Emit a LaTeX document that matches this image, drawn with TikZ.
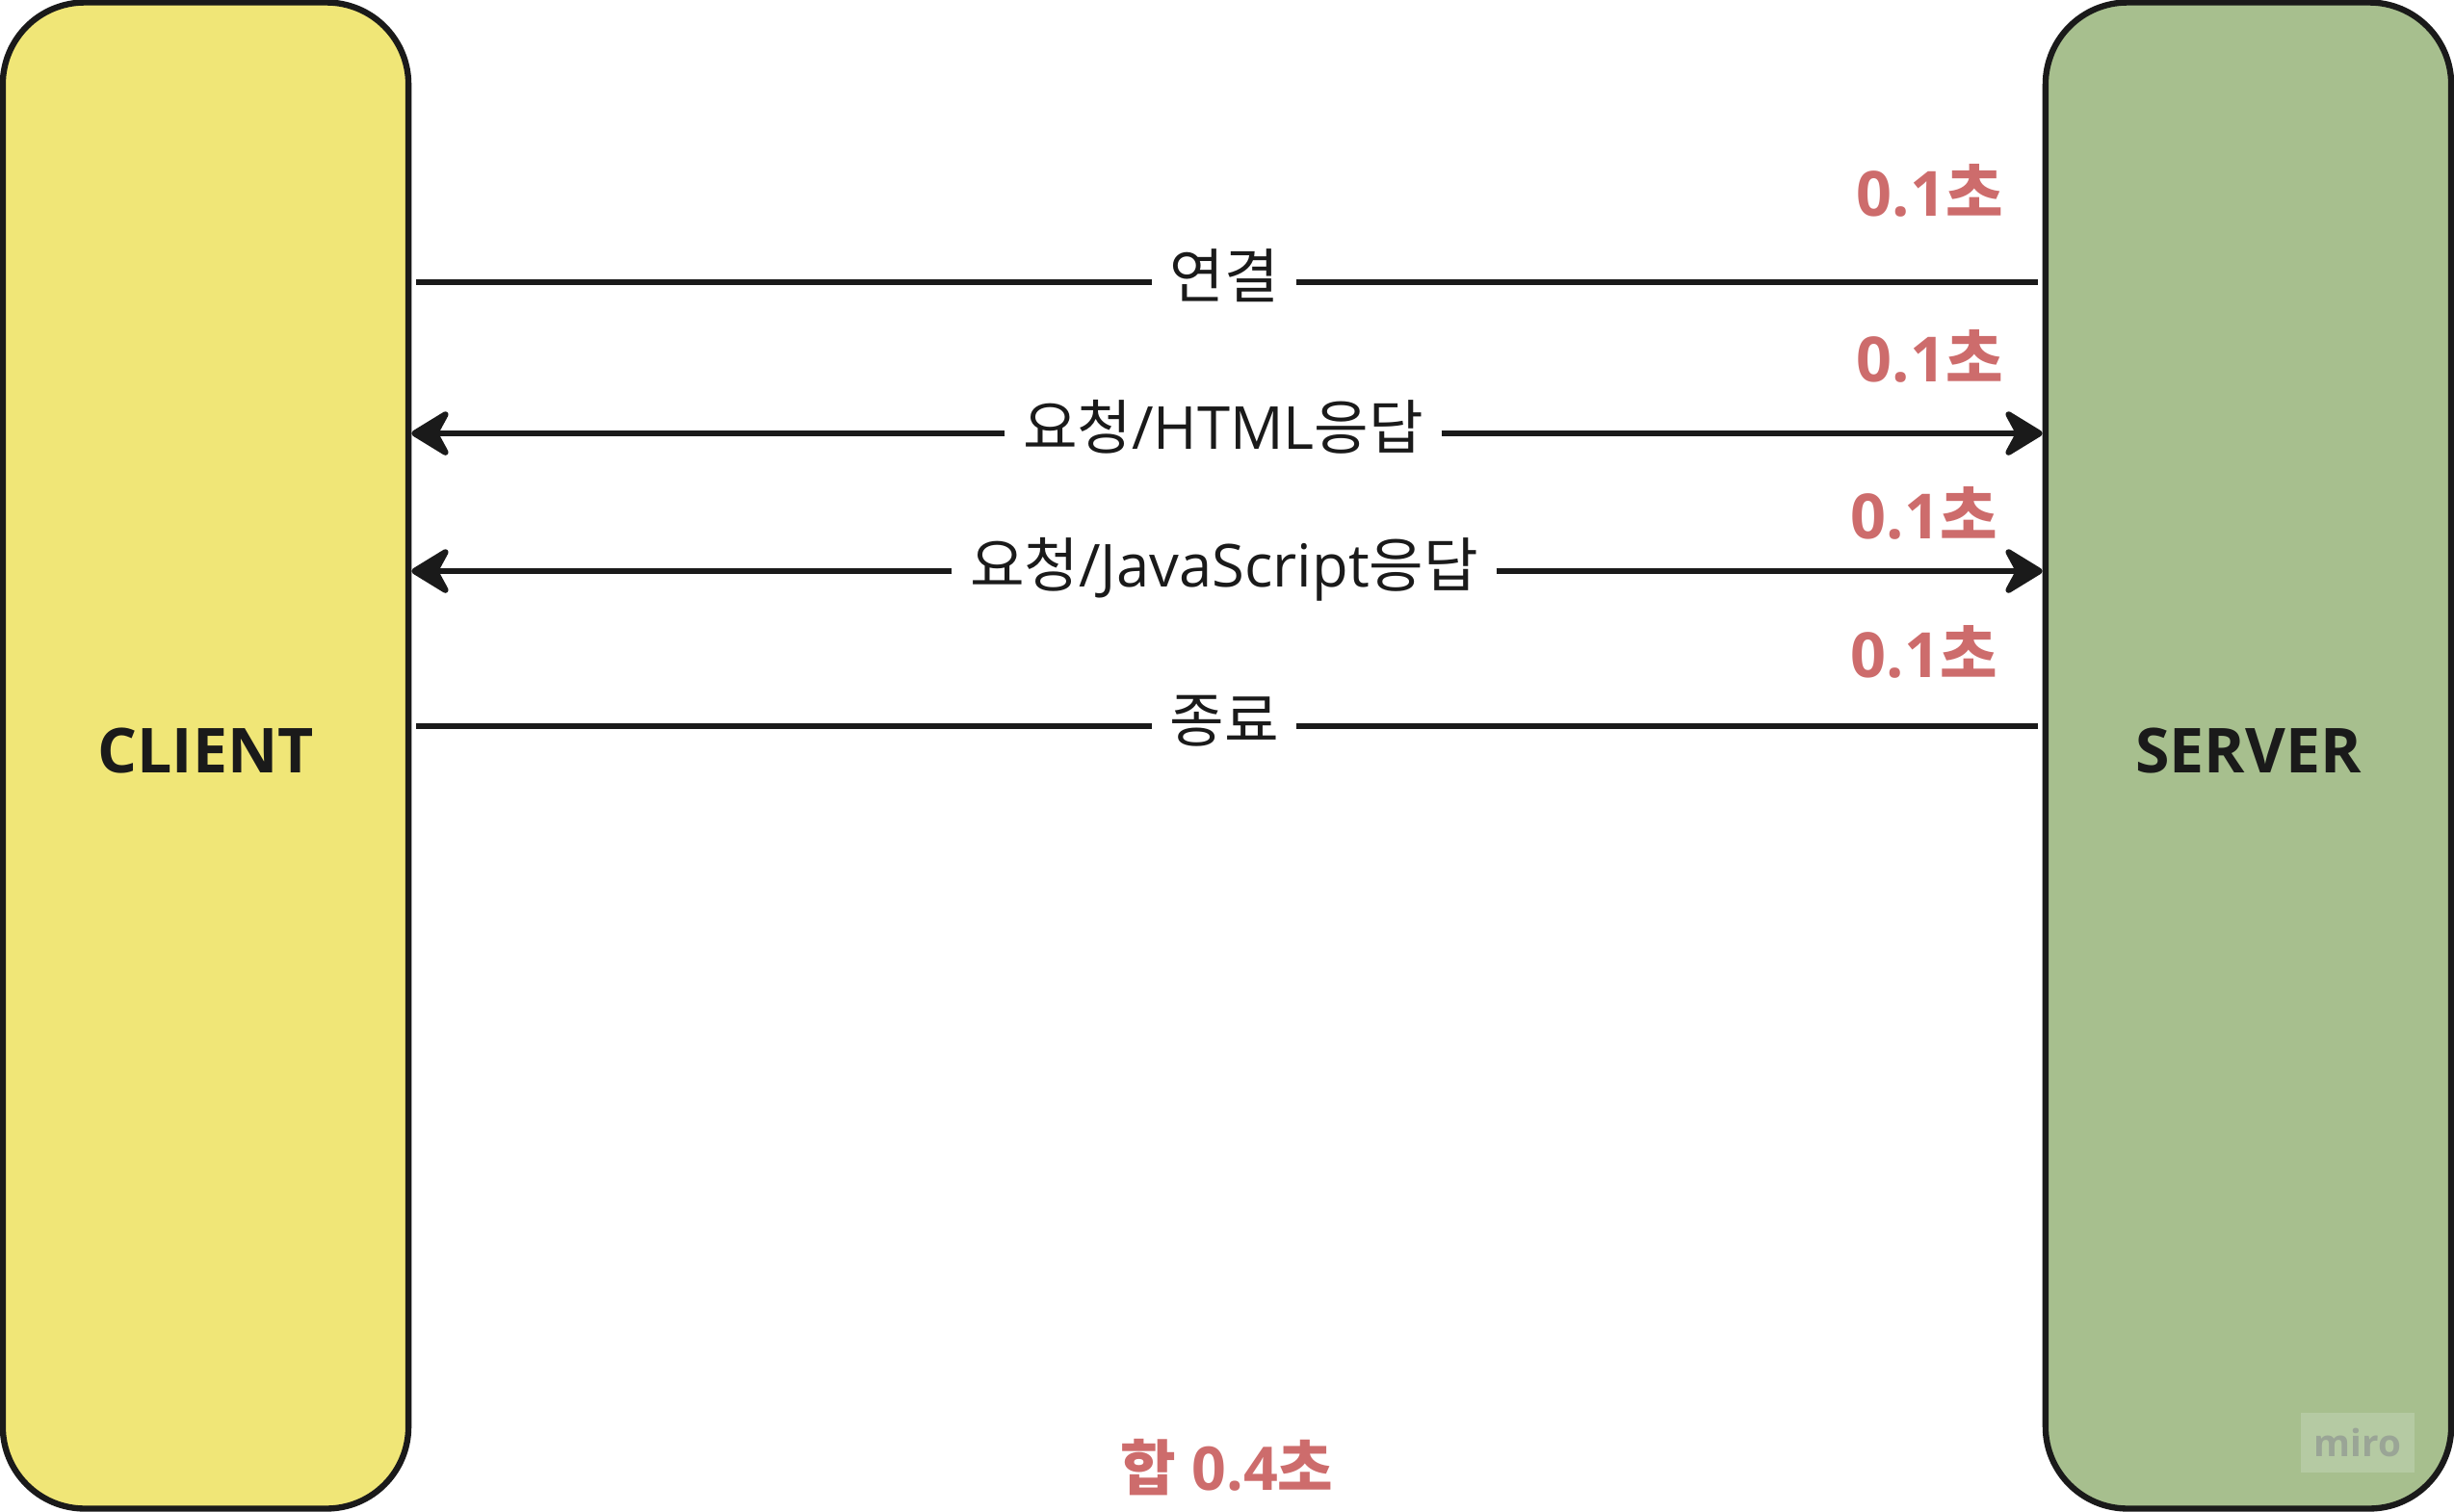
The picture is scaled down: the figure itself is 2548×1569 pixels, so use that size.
\documentclass[tikz,border=0pt]{standalone}
\usepackage{fontspec}
\setmainfont{Open Sans}
\newfontfamily\kr{Noto Sans CJK KR}
\usetikzlibrary{arrows.meta,positioning}
\definecolor{clientfill}{HTML}{F0E677}
\definecolor{serverfill}{HTML}{A7BF8E}
\definecolor{timered}{HTML}{CD6C6C}
\definecolor{ink}{HTML}{1A1A1A}
\definecolor{mirotext}{HTML}{9AA596}
\definecolor{mirobox}{HTML}{B5CAA3}
\tikzset{
  side/.style={draw=ink, line width=1.8pt, rounded corners=0.85cm, minimum width=4.21cm, minimum height=15.63cm, text depth=0.1cm, text=ink, font=\fontsize{18.3}{22}\selectfont\bfseries},
  msg/.style={inner xsep=0.18cm, inner ysep=0pt, text height=0.5cm, text depth=0.18cm, text=ink, font=\fontsize{17.5}{21}\selectfont},
  timelbl/.style={anchor=east, text=timered, font=\fontsize{18.4}{22}\selectfont\bfseries},
  msgtip/.tip={Stealth[length=4.6mm, width=5.6mm, inset=1.5mm, round]},
  link/.style={draw=ink, line width=1.8pt},
}
\begin{document}
\begin{tikzpicture}[x=0.01cm, y=-0.01cm]
\useasboundingbox (0,0) rectangle (2548,1569);

% the two sides
\node[side, fill=clientfill] (client) at (213.5,784.5) {CLIENT};
\node[side, fill=serverfill] (server) at (2334.5,784.5) {SERVER};

% watermark
\node[fill=mirobox, minimum width=1.18cm, minimum height=0.62cm, text=mirotext, font=\fontsize{11}{12}\selectfont\bfseries] (miro) at (2448,1498) {miro};

% messages
\node[msg] (conn) at (1271,293) {{\kr 연결}};
\node[msg] (html) at (1270,450) {{\kr 요청}/HTML{\kr 응답}};
\node[msg] (js)   at (1271,593) {{\kr 요청}/JavaScript{\kr 응답}};
\node[msg] (quit) at (1271,754) {{\kr 종료}};

\draw[link, shorten >=0.05cm] (conn.west) -- (conn.west -| client.east);
\draw[link, shorten >=0.05cm] (conn.east) -- (conn.east -| server.west);
\draw[link, -msgtip] (html.west) -- (html.west -| client.east);
\draw[link, -msgtip] (html.east) -- (html.east -| server.west);
\draw[link, -msgtip] (js.west) -- (js.west -| client.east);
\draw[link, -msgtip] (js.east) -- (js.east -| server.west);
\draw[link, shorten >=0.05cm] (quit.west) -- (quit.west -| client.east);
\draw[link, shorten >=0.05cm] (quit.east) -- (quit.east -| server.west);

% times
\node[timelbl] (t1) at (2092,198) {0.1{\kr 초}};
\node[timelbl] (t2) at (2092,370) {0.1{\kr 초}};
\node[timelbl] (t3) at (2086,533) {0.1{\kr 초}};
\node[timelbl] (t4) at (2086,677) {0.1{\kr 초}};
\node[text=timered, font=\fontsize{17.8}{22}\selectfont\bfseries] (total) at (1274,1524) {{\kr 합} 0.4{\kr 초}};
\end{tikzpicture}
\end{document}
